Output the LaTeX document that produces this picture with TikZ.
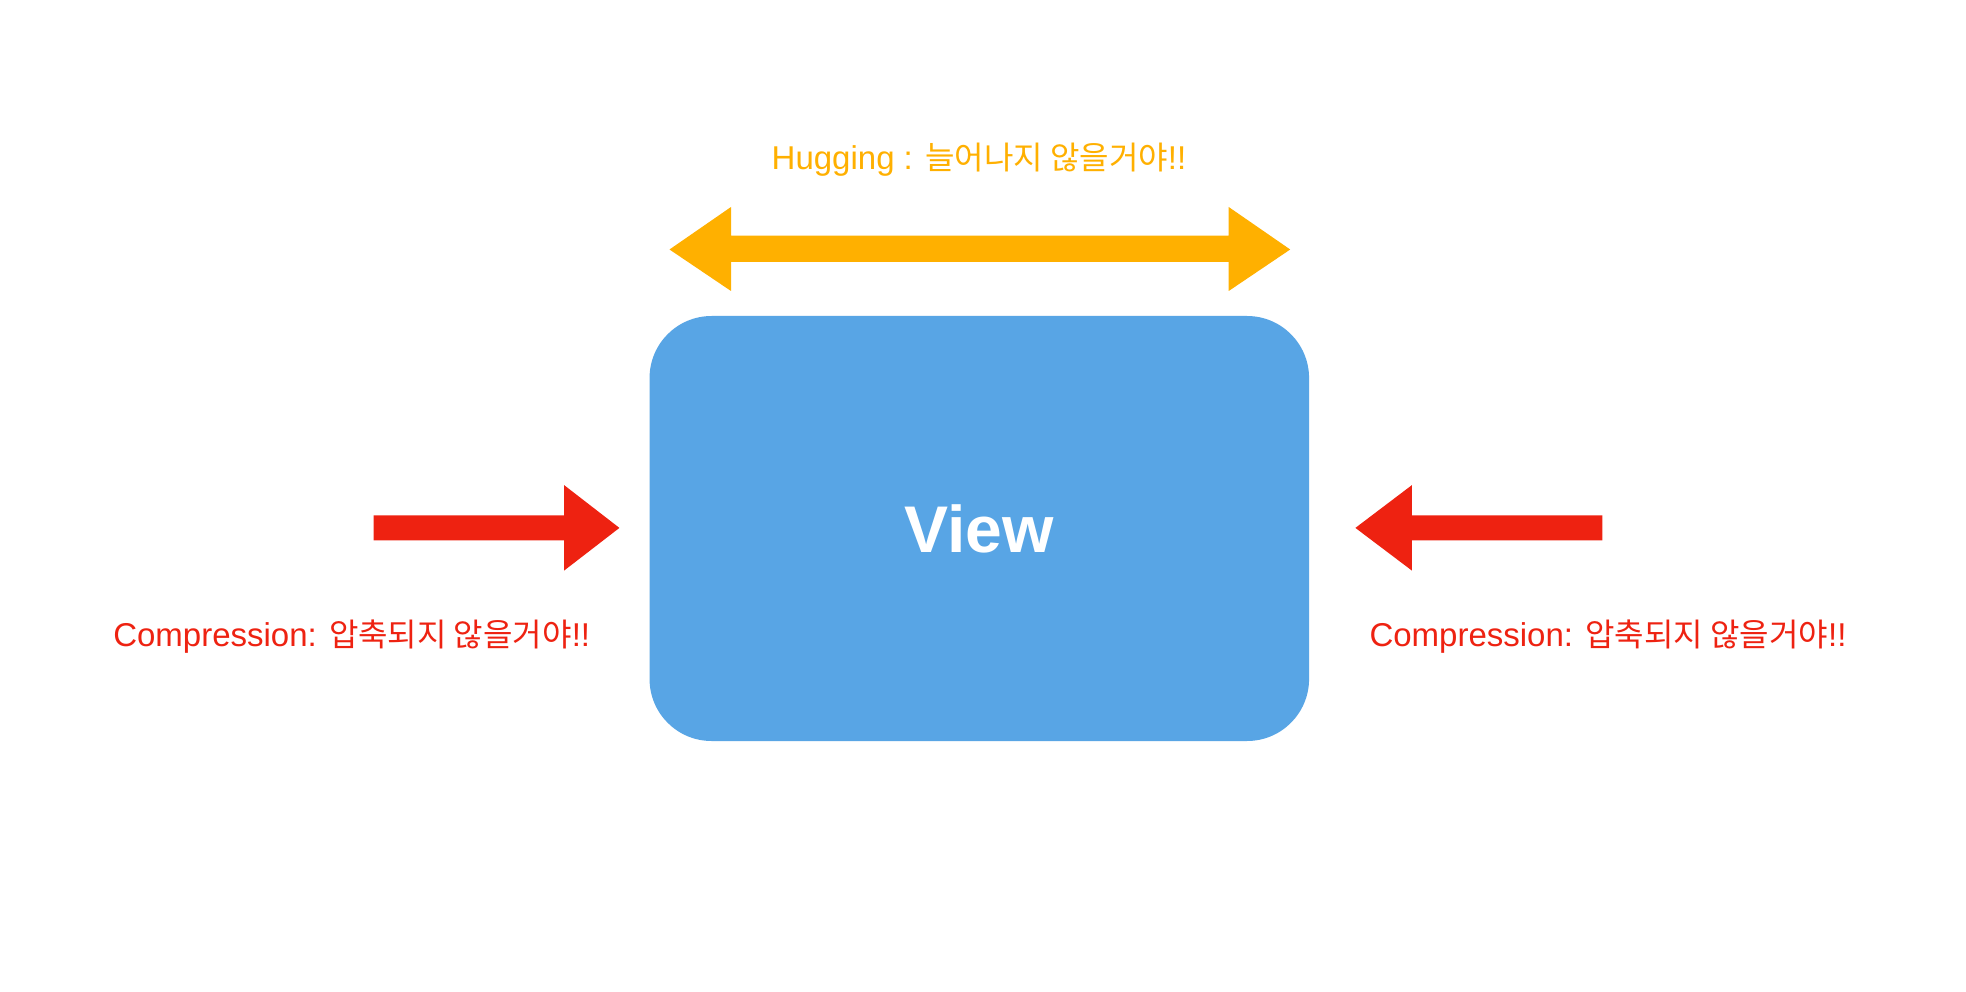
\documentclass[tikz,border=0pt]{standalone}
\usepackage{fontspec}
\setmainfont{Liberation Sans}
\newfontfamily\krfont[Scale=0.97]{Noto Sans CJK KR}
\definecolor{hugyellow}{RGB}{255,176,0}
\definecolor{compred}{RGB}{238,34,17}
\definecolor{viewblue}{RGB}{88,165,229}
\tikzset{
  viewbox/.style={fill=viewblue, draw=none, rounded corners=62pt, minimum width=659.5pt, minimum height=425pt, inner sep=0pt, text=white, font=\fontsize{66}{78}\selectfont\bfseries},
  hugtext/.style={text=hugyellow, anchor=base, inner sep=0pt, font=\fontsize{33}{39}\selectfont},
  comptext/.style={text=compred, anchor=base, inner sep=0pt, font=\fontsize{33}{39}\selectfont},
}
\begin{document}
\begin{tikzpicture}[x=1pt,y=-1pt]
\useasboundingbox[fill=white] (0,0) rectangle (1966,992);
% View box
\node[viewbox] (view) at (979.3,528.5) {View};
% Hugging double arrow
\fill[hugyellow] (669.5,249.5) -- (731,207) -- (731,235.7) -- (1228.7,235.7) -- (1228.7,207) -- (1290.2,249.5) -- (1228.7,291) -- (1228.7,262) -- (731,262) -- (731,291) -- cycle;
\node[hugtext] (hug) at (979,169.3) {Hugging : {\krfont 늘어나지 않을거야}!!};
% Left compression arrow
\fill[compred] (373.6,515.3) -- (564.2,515.3) -- (564.2,485.2) -- (619.4,527.9) -- (564.2,570.5) -- (564.2,540.4) -- (373.6,540.4) -- cycle;
\node[comptext] (compL) at (351.7,646.7) {Compression: {\krfont 압축되지 않을거야}!!};
% Right compression arrow
\fill[compred] (1602.4,515.3) -- (1411.8,515.3) -- (1411.8,485.2) -- (1355.4,527.9) -- (1411.8,570.5) -- (1411.8,540.4) -- (1602.4,540.4) -- cycle;
\node[comptext] (compR) at (1608,646.7) {Compression: {\krfont 압축되지 않을거야}!!};
\end{tikzpicture}
\end{document}
